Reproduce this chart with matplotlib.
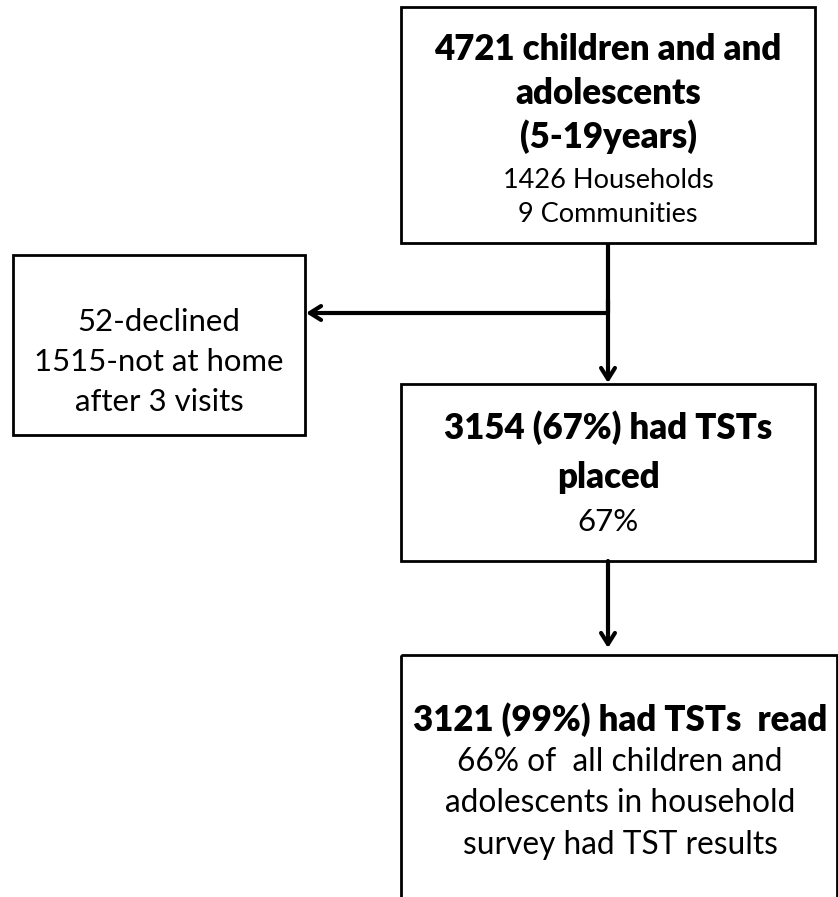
import matplotlib.pyplot as plt
from matplotlib.patches import Rectangle

plt.rcParams['font.family'] = ['Lato', 'DejaVu Sans']

# box texts: (bold lines, regular lines)
top_bold = ['4721 children and and', 'adolescents', '(5-19years)']
top_regular = ['1426 Households', '9 Communities']
excluded_lines = ['52-declined', '1515-not at home', 'after 3 visits']
placed_bold = ['3154 (67%) had TSTs', 'placed']
placed_regular = ['67%']
read_bold = ['3121 (99%) had TSTs  read']
read_regular = ['66% of  all children and', 'adolescents in household',
                'survey had TST results']

fig = plt.figure(figsize=(8.38, 8.97), dpi=100)
ax = fig.add_axes([0, 0, 1, 1])
ax.set_xlim(0, 838)
ax.set_ylim(897, 0)
ax.axis('off')

box_lw = 2.0
arrow_lw = 3.0


def box(x0, y0, x1, y1):
    ax.add_patch(Rectangle((x0, y0), x1 - x0, y1 - y0, fill=False,
                           edgecolor='black', linewidth=box_lw, clip_on=False))


def lines(x, ys, texts, size, bold):
    for y, t in zip(ys, texts):
        ax.text(x, y, t, ha='center', va='center', fontsize=size,
                fontweight='heavy' if bold else 'normal', color='black')


def arrow(x0, y0, x1, y1):
    ax.annotate('', xy=(x1, y1), xytext=(x0, y0),
                arrowprops=dict(arrowstyle='->,head_length=0.8,head_width=0.5',
                                lw=arrow_lw, color='black', shrinkA=0, shrinkB=0))


# boxes
box(401, 7, 815, 243)
box(13, 255, 305, 435)
box(401, 384, 815, 561)
box(401, 655, 837, 920)

# connectors
ax.plot([608, 608], [243, 313], color='black', lw=arrow_lw, solid_capstyle='butt')
arrow(608, 313, 306, 313)
arrow(608, 300, 608, 383)
arrow(608, 561, 608, 648)

# texts
lines(608, [50, 93, 137], top_bold, 25, True)
lines(608, [181, 214], top_regular, 19.5, False)
lines(159, [322, 362, 402], excluded_lines, 22.4, False)
lines(608, [428, 477], placed_bold, 25, True)
lines(608, [522], placed_regular, 22.5, False)
lines(620, [720], read_bold, 25, True)
lines(620, [762, 803, 845], read_regular, 22.8, False)

plt.savefig('out.png', dpi=100)
